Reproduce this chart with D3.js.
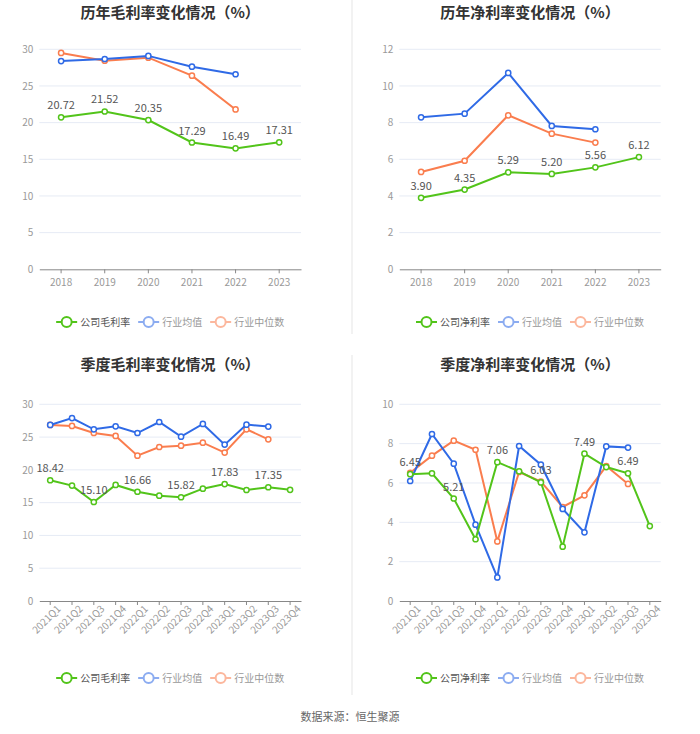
<!DOCTYPE html>
<html lang="zh">
<head>
    <meta charset="UTF-8">
    <title>毛利率与净利率变化情况</title>
    <script src="https://d3js.org/d3.v7.min.js"></script>
    <style>
        body { margin: 0; background: #fff; }
        svg text { font-family: "Noto Sans CJK SC", "Noto Sans", sans-serif; }
        .title { font-size: 15px; font-weight: bold; fill: #333; }
        .tick text { fill: #999; font-size: 10px; }
        .lbl { font-size: 11px; fill: #555; }
        .legend text { font-size: 10px; }
    </style>
</head>
<body>
    <svg width="700" height="734"></svg>

    <script>
        const years = ["2018", "2019", "2020", "2021", "2022", "2023"];
        const quarters = ["2021Q1", "2021Q2", "2021Q3", "2021Q4", "2022Q1", "2022Q2",
                          "2022Q3", "2022Q4", "2023Q1", "2023Q2", "2023Q3", "2023Q4"];

        // 历年毛利率
        const grossYear = [20.72, 21.52, 20.35, 17.29, 16.49, 17.31];
        const grossYearAvg = [28.40, 28.68, 29.10, 27.63, 26.60];
        const grossYearMed = [29.50, 28.45, 28.86, 26.40, 21.80];

        // 历年净利率
        const netYear = [3.90, 4.35, 5.29, 5.20, 5.56, 6.12];
        const netYearAvg = [8.29, 8.49, 10.71, 7.82, 7.64];
        const netYearMed = [5.31, 5.92, 8.40, 7.40, 6.91];

        // 季度毛利率
        const grossQtr = [18.42, 17.60, 15.10, 17.70, 16.66, 16.07, 15.82, 17.13, 17.83, 16.93, 17.35, 16.95];
        const grossQtrAvg = [26.85, 27.90, 26.19, 26.64, 25.62, 27.30, 25.06, 27.00, 23.85, 26.90, 26.60];
        const grossQtrMed = [26.85, 26.70, 25.62, 25.17, 22.17, 23.49, 23.69, 24.15, 22.63, 26.19, 24.66];

        // 季度净利率
        const netQtr = [6.45, 6.49, 5.21, 3.14, 7.06, 6.59, 6.03, 2.76, 7.49, 6.81, 6.49, 3.81];
        const netQtrAvg = [6.10, 8.49, 6.98, 3.88, 1.20, 7.88, 6.93, 4.68, 3.49, 7.86, 7.80];
        const netQtrMed = [6.52, 7.39, 8.15, 7.69, 3.03, 6.56, 6.07, 4.78, 5.37, 6.86, 5.95];

        const GREEN = "#52c41a", BLUE = "#2f6ae6", ORANGE = "#fa7d4e";

        const panels = [
            {x0: 0, y0: 0, left: 39.3, right: 301, top: 49.3, bottom: 269.3, titleY: 18, legendY: 322,
             title: "历年毛利率变化情况（%）", name: "公司毛利率", cats: years, max: 30, step: 5,
             series: [grossYear, grossYearAvg, grossYearMed], rotate: false, labelEvery: 1},
            {x0: 350, y0: 0, left: 49.3, right: 310.7, top: 49.3, bottom: 269.3, titleY: 18, legendY: 322,
             title: "历年净利率变化情况（%）", name: "公司净利率", cats: years, max: 12, step: 2,
             series: [netYear, netYearAvg, netYearMed], rotate: false, labelEvery: 1},
            {x0: 0, y0: 350, left: 39.3, right: 301, top: 54.3, bottom: 251, titleY: 20, legendY: 328,
             title: "季度毛利率变化情况（%）", name: "公司毛利率", cats: quarters, max: 30, step: 5,
             series: [grossQtr, grossQtrAvg, grossQtrMed], rotate: true, labelEvery: 2},
            {x0: 350, y0: 350, left: 49.3, right: 310.7, top: 54.3, bottom: 251, titleY: 20, legendY: 328,
             title: "季度净利率变化情况（%）", name: "公司净利率", cats: quarters, max: 10, step: 2,
             series: [netQtr, netQtrAvg, netQtrMed], rotate: true, labelEvery: 2}
        ];

        const svg = d3.select("svg");

        // panel dividers
        svg.append("line").attr("x1", 352).attr("x2", 352).attr("y1", 0).attr("y2", 334)
            .attr("stroke", "#f2f2f2").attr("stroke-width", 2);
        svg.append("line").attr("x1", 352).attr("x2", 352).attr("y1", 355).attr("y2", 695)
            .attr("stroke", "#f2f2f2").attr("stroke-width", 2);

        panels.forEach(p => {
            const g = svg.append("g").attr("transform", `translate(${p.x0},${p.y0})`);

            const x = d3.scaleBand().domain(p.cats).range([p.left, p.right]);
            const y = d3.scaleLinear().domain([0, p.max]).range([p.bottom, p.top]);
            const cx = d => x(d) + x.bandwidth() / 2;
            const ticks = d3.range(0, p.max + 0.001, p.step);

            g.append("text")
                .attr("class", "title")
                .attr("x", (p.left + p.right) / 2)
                .attr("y", p.titleY)
                .attr("text-anchor", "middle")
                .text(p.title);

            // grid
            g.append("g").selectAll("line")
                .data(ticks.filter(t => t > 0))
                .join("line")
                .attr("x1", p.left).attr("x2", p.right)
                .attr("y1", d => y(d)).attr("y2", d => y(d))
                .attr("stroke", "#e6ebf5").attr("stroke-width", 1);

            // y axis (labels only)
            const yAxis = g.append("g")
                .attr("transform", `translate(${p.left},0)`)
                .call(d3.axisLeft(y).tickValues(ticks).tickSize(0).tickPadding(6));
            yAxis.select(".domain").remove();

            // x axis
            const xAxis = g.append("g")
                .attr("transform", `translate(0,${p.bottom})`)
                .call(d3.axisBottom(x).tickSize(4).tickPadding(p.rotate ? 4 : 6).tickSizeOuter(0));
            xAxis.select(".domain").attr("stroke", "#888");
            xAxis.selectAll(".tick line").attr("stroke", "#888");
            if (p.rotate) {
                xAxis.selectAll(".tick text")
                    .style("text-anchor", "end")
                    .attr("dx", "0.2em")
                    .attr("dy", "0.6em")
                    .attr("transform", "rotate(-45)");
            }

            const colors = [GREEN, BLUE, ORANGE];
            const line = d3.line().x((d, i) => cx(p.cats[i])).y(d => y(d));

            // draw median, average, then company on top
            [2, 1, 0].forEach(si => {
                const vals = p.series[si];
                g.append("path")
                    .datum(vals)
                    .attr("fill", "none")
                    .attr("stroke", colors[si])
                    .attr("stroke-width", 2)
                    .attr("d", line);
                g.append("g").selectAll("circle")
                    .data(vals)
                    .join("circle")
                    .attr("cx", (d, i) => cx(p.cats[i]))
                    .attr("cy", d => y(d))
                    .attr("r", 2.6)
                    .attr("fill", "#fff")
                    .attr("stroke", colors[si])
                    .attr("stroke-width", 1.5);
            });

            // company data labels
            g.append("g").selectAll("text")
                .data(p.series[0].map((v, i) => ({v, i})).filter(d => d.i % p.labelEvery === 0))
                .join("text")
                .attr("class", "lbl")
                .attr("x", d => cx(p.cats[d.i]))
                .attr("y", d => y(d.v) - 8)
                .attr("text-anchor", "middle")
                .text(d => d.v.toFixed(2));

            // legend
            const items = [
                {name: p.name, color: GREEN, opacity: 1, text: "#555"},
                {name: "行业均值", color: BLUE, opacity: 0.55, text: "#999"},
                {name: "行业中位数", color: ORANGE, opacity: 0.55, text: "#999"}
            ];
            const lg = g.append("g").attr("class", "legend");
            let widths = items.map(d => 21 + 3 + d.name.length * 10);
            const total = d3.sum(widths) + 8 * (items.length - 1);
            let lx = (p.left + p.right) / 2 - total / 2;
            items.forEach((d, i) => {
                const it = lg.append("g").attr("transform", `translate(${lx},${p.legendY})`)
                    .attr("opacity", d.opacity);
                it.append("line").attr("x1", 0).attr("x2", 21).attr("y1", 0).attr("y2", 0)
                    .attr("stroke", d.color).attr("stroke-width", 2);
                it.append("circle").attr("cx", 10.5).attr("cy", 0).attr("r", 5)
                    .attr("fill", "#fff").attr("stroke", d.color).attr("stroke-width", 2);
                lg.append("text").attr("x", lx + 24).attr("y", p.legendY)
                    .attr("dy", "0.35em").attr("fill", d.text).text(d.name);
                lx += widths[i] + 8;
            });
        });

        svg.append("text")
            .attr("x", 350).attr("y", 717)
            .attr("text-anchor", "middle")
            .attr("dy", "0.35em")
            .style("font-size", "11px")
            .attr("fill", "#666")
            .text("数据来源：恒生聚源");
    </script>
</body>
</html>
